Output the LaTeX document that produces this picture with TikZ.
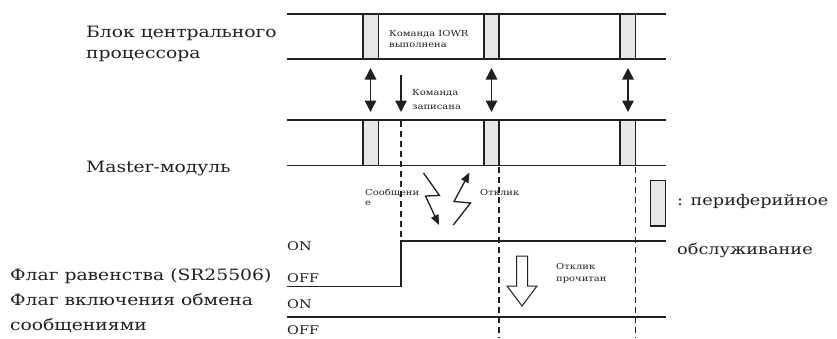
\documentclass[tikz,border=0pt]{standalone}
\usepackage{fontspec}
\setmainfont{DejaVu Serif}[FakeStretch=1.2]
\usetikzlibrary{arrows.meta}
\definecolor{ink}{HTML}{231F20}
\definecolor{boxfill}{HTML}{E6E7E8}
\tikzset{
  sig/.style={draw=ink, line width=1.3pt},
  flagline/.style={draw=ink, line width=1.6pt},
  pbox/.style={draw=ink, fill=boxfill, line width=1.3pt},
  dashline/.style={draw=ink, line width=1.3pt, dash pattern=on 6pt off 4pt},
  dbl/.style={draw=ink, line width=1.5pt, {Triangle[length=11.5pt,width=11.5pt]}-{Triangle[length=11.5pt,width=11.5pt]}},
  sgl/.style={draw=ink, line width=1.5pt, -{Triangle[length=11.5pt,width=11.5pt]}},
  bolt/.style={draw=ink, line width=1.3pt, -{Triangle[length=10pt,width=8pt]}},
  big/.style={inner sep=0pt, anchor=base west, text=ink, font=\fontsize{15.6}{18}\selectfont},
  leg/.style={inner sep=0pt, anchor=base west, text=ink, font=\fontsize{14.75}{18}\selectfont},
  onoff/.style={inner sep=0pt, anchor=base west, text=ink, font=\fontsize{12}{14}\selectfont},
  small/.style={inner sep=0pt, anchor=base west, text=ink, font=\fontsize{8.3}{10}\selectfont},
}
\begin{document}
\begin{tikzpicture}[x=1pt,y=-1pt]
\useasboundingbox (0,0) rectangle (837,338);
% CPU band
\draw[sig] (287,14) -- (666,14);
\draw[sig] (287,59) -- (666,59);
% Master band
\draw[sig] (287,120) -- (666,120);
\draw[sig] (287,165.5) -- (666,165.5);
% boxes
\foreach \xa/\xb in {363/378.5, 484/499, 620/635.5}{
  \filldraw[pbox] (\xa,14) rectangle (\xb,59);
  \filldraw[pbox] (\xa,120) rectangle (\xb,165.5);
}
% dashed lines
\draw[dashline] (401,121) -- (401,241);
\draw[dashline] (499,167) -- (499,338);
\draw[dashline] (635.5,167) -- (635.5,338);
% arrows between bands
\coordinate (a1t) at (370.5,68);
\coordinate (a1b) at (370.5,112);
\coordinate (a2t) at (491.5,68);
\coordinate (a2b) at (491.5,112);
\coordinate (a3t) at (628,68);
\coordinate (a3b) at (628,112);
\coordinate (s1t) at (401,75);
\coordinate (s1b) at (401,112);
\draw[dbl] (a1t) -- (a1b);
\draw[dbl] (a2t) -- (a2b);
\draw[dbl] (a3t) -- (a3b);
\draw[sgl] (s1t) -- (s1b);
% lightning bolts
\draw[bolt] (423.5,173) -- (439.5,195.5) -- (425.5,196) -- (439,225);
\draw[bolt] (453.3,225) -- (470.5,203) -- (454,201.5) -- (469.5,172.5);
% flags
\draw[flagline] (287,286.5) -- (401,286.5) -- (401,241) -- (666,241);
\draw[flagline] (287,317) -- (666,317);
% hollow arrow
\draw[draw=ink, line width=1pt, fill=white] (516.5,256) -- (527.5,256) -- (527.5,286) -- (537,286) -- (522,306) -- (507,286) -- (516.5,286) -- cycle;
% legend
\filldraw[pbox] (650.5,180.5) rectangle (665.5,226);
% texts
\node[big] (cpu1) at (86,37) {Блок центрального};
\node[big] (cpu2) at (86,58.5) {процессора};
\node[big] (mst) at (86,172) {Master-модуль};
\node[big] (f1) at (10,280) {Флаг равенства (SR25506)};
\node[big] (f2) at (10,305) {Флаг включения обмена};
\node[big] (f3) at (10,330) {сообщениями};
\node[onoff] (on1) at (287,250.5) {ON};
\node[onoff] (off1) at (287,282) {OFF};
\node[onoff] (on2) at (287,308.5) {ON};
\node[onoff] (off2) at (287,334) {OFF};
\node[small] (iowr1) at (389,36) {Команда IOWR};
\node[small] (iowr2) at (389,47) {выполнена};
\node[small] (zap1) at (412,95) {Команда};
\node[small] (zap2) at (412,109) {записана};
\node[small] (soob1) at (365,195) {Сообщени};
\node[small] (soob2) at (365,205.5) {е};
\node[small] (otk) at (480,195) {Отклик};
\node[small] (pr1) at (556,269.5) {Отклик};
\node[small] (pr2) at (556,281) {прочитан};
\node[leg] (leg1) at (677,205) {: периферийное};
\node[leg] (leg2) at (677,254) {обслуживание};
\end{tikzpicture}
\end{document}
